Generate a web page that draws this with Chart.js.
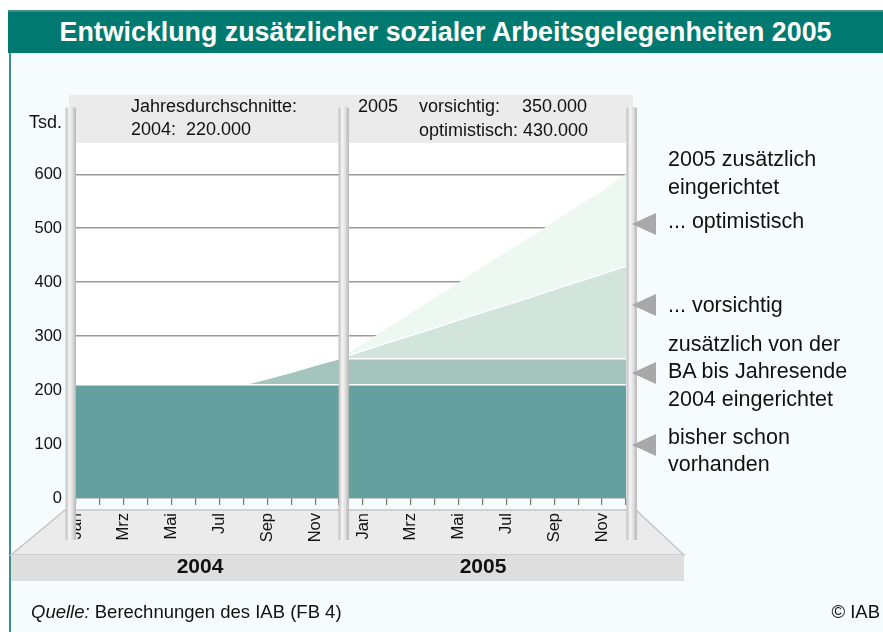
<!DOCTYPE html>
<html lang="de">
<head>
<meta charset="utf-8">
<title>Entwicklung zusätzlicher sozialer Arbeitsgelegenheiten 2005</title>
<script src="https://cdn.jsdelivr.net/npm/chart.js@4.4.1/dist/chart.umd.min.js"></script>
<style>
  html, body { margin: 0; padding: 0; }
  body {
    width: 883px; height: 632px; position: relative; overflow: hidden;
    background: #ffffff; color: #111;
    font-family: "Liberation Sans", Arial, sans-serif;
  }
  #panel {
    position: absolute; left: 9px; top: 53px; width: 874px; height: 579px;
    background: #f6fcfc; border-left: 2px solid #3b918d; box-sizing: border-box;
  }
  #title {
    position: absolute; left: 8px; top: 10px; width: 875px; height: 43px;
    background: #007a70; border-top: 2px solid #3f8d88; box-sizing: border-box;
    color: #fff; font-weight: bold; font-size: 26.8px; line-height: 41px; text-align: center;
  }
  #chart { position: absolute; left: 0; top: 0; }
  .t { position: absolute; white-space: nowrap; }
  .h { font-size: 18px; line-height: 23.4px; }
  .f { font-size: 18.5px; line-height: 23.4px; }
  .a { font-size: 21.5px; line-height: 27.7px; left: 668px; }
  .y { font-size: 21px; line-height: 24px; font-weight: bold; width: 100px; text-align: center; }
  .arr {
    position: absolute; left: 632px; width: 0; height: 0;
    border-top: 11px solid transparent; border-bottom: 11px solid transparent;
    border-right: 24px solid #a8a8a8;
  }
</style>
</head>
<body>
<div id="panel"></div>
<div id="title">Entwicklung zusätzlicher sozialer Arbeitsgelegenheiten 2005</div>
<canvas id="chart" width="883" height="632"></canvas>

<div class="t h" style="left:131px; top:95px;">Jahresdurchschnitte:<br>2004:&nbsp; 220.000</div>
<div class="t h" style="left:358px; top:95px;">2005</div>
<div class="t h" style="left:419px; top:95px;">vorsichtig:</div>
<div class="t h" style="left:522px; top:95px;">350.000</div>
<div class="t h" style="left:419px; top:118.5px;">optimistisch: 430.000</div>
<div class="t h" style="right:821px; top:111px;">Tsd.</div>

<div class="t a" style="top:146px;">2005 zusätzlich<br>eingerichtet</div>
<div class="t a" style="top:207.5px;">... optimistisch</div>
<div class="t a" style="top:291.5px;">... vorsichtig</div>
<div class="t a" style="top:330.5px;">zusätzlich von der<br>BA bis Jahresende<br>2004 eingerichtet</div>
<div class="t a" style="top:423.5px;">bisher schon<br>vorhanden</div>
<div class="arr" style="top:213px;"></div>
<div class="arr" style="top:294px;"></div>
<div class="arr" style="top:362px;"></div>
<div class="arr" style="top:434px;"></div>

<div class="t y" style="left:150px; top:554px;">2004</div>
<div class="t y" style="left:433px; top:554px;">2005</div>

<div class="t f" style="left:31px; top:600px;"><i>Quelle:</i> Berechnungen des IAB (FB 4)</div>
<div class="t f" style="right:3px; top:600px;">© IAB</div>

<script>
// Monate, zwei Jahre hintereinander
const months = ["Jan", "Feb", "Mrz", "Apr", "Mai", "Jun", "Jul", "Aug", "Sep", "Okt", "Nov", "Dez"];
const categories = months.concat(months);
const shownMonths = ["Jan", "Mrz", "Mai", "Jul", "Sep", "Nov"];
const yTicks = [0, 100, 200, 300, 400, 500, 600];

// Werte in Tsd. (Oberkante jeder Schicht)
const bisherVorhanden = [210, 210, 210, 210, 210, 210, 210, 210, 210, 210, 210, 210,
                         210, 210, 210, 210, 210, 210, 210, 210, 210, 210, 210, 210];
const baBisJahresende = [210, 210, 210, 210, 210, 210, 210, 210, 221, 233, 246, 258,
                         258, 258, 258, 258, 258, 258, 258, 258, 258, 258, 258, 258];
const vorsichtig = [null, null, null, null, null, null, null, null, null, null, null, 258,
                    273, 287, 301, 315, 330, 344, 358, 372, 387, 401, 415, 430];
const optimistisch = [null, null, null, null, null, null, null, null, null, null, null, 258,
                      286, 314, 343, 371, 399, 428, 456, 484, 512, 541, 569, 600];

// Hintergrund: Kopfband, weisse Zeichenflaeche, Sockel
const backdrop = {
  id: "backdrop",
  beforeDraw(chart) {
    const ctx = chart.ctx, a = chart.chartArea;
    ctx.save();
    ctx.fillStyle = "#ebebeb";
    ctx.fillRect(a.left - 7, a.top - 48, a.right - a.left + 14, 48);
    ctx.fillStyle = "#ffffff";
    ctx.fillRect(a.left, a.top, a.right - a.left, a.bottom - a.top);

    // Sockel (Trapez + Band)
    const top = a.bottom + 12, mid = a.bottom + 57, bot = a.bottom + 83;
    ctx.beginPath();
    ctx.moveTo(a.left - 11, top);
    ctx.lineTo(a.right + 10, top);
    ctx.lineTo(a.right + 58, mid);
    ctx.lineTo(11, mid);
    ctx.closePath();
    ctx.fillStyle = "#ebebeb";
    ctx.fill();
    ctx.strokeStyle = "#c6c6c6";
    ctx.lineWidth = 1.5;
    ctx.stroke();
    ctx.fillStyle = "#dedede";
    ctx.fillRect(11, mid, a.right + 47, bot - mid);
    ctx.restore();
  },
  afterDraw(chart) {
    const ctx = chart.ctx, a = chart.chartArea, x = chart.scales.x;
    const posts = [a.left - 5.2, x.getPixelForValue(11) + 4.7, a.right + 5.7];
    const top = a.top - 37, bottom = a.bottom + 42, w = 10.4;
    ctx.save();
    posts.forEach(cx => {
      const g = ctx.createLinearGradient(cx - w / 2, 0, cx + w / 2, 0);
      g.addColorStop(0, "#bcbcbc");
      g.addColorStop(0.35, "#f6f6f6");
      g.addColorStop(0.65, "#e0e0e0");
      g.addColorStop(1, "#b4b4b4");
      ctx.fillStyle = g;
      ctx.beginPath();
      ctx.moveTo(cx - w / 2, bottom);
      ctx.lineTo(cx - w / 2, top + 2);
      ctx.quadraticCurveTo(cx, top - 1, cx + w / 2, top + 2);
      ctx.lineTo(cx + w / 2, bottom);
      ctx.closePath();
      ctx.fill();
    });
    ctx.restore();
  }
};

const ctx = document.getElementById("chart").getContext("2d");
new Chart(ctx, {
  type: "line",
  data: {
    labels: categories,
    datasets: [
      { label: "bisher schon vorhanden", data: bisherVorhanden, fill: "origin",
        backgroundColor: "#64a19e", borderColor: "#ffffff", borderWidth: 1.5 },
      { label: "zusätzlich von der BA bis Jahresende 2004 eingerichtet", data: baBisJahresende, fill: "-1",
        backgroundColor: "#a4c5bd", borderColor: "#ffffff", borderWidth: 1.5 },
      { label: "... vorsichtig", data: vorsichtig, fill: "-1",
        backgroundColor: "#d1e5dc", borderColor: "#ffffff", borderWidth: 1.5 },
      { label: "... optimistisch", data: optimistisch, fill: "-1",
        backgroundColor: "#ecf8f1", borderColor: "#ecf8f1", borderWidth: 0 }
    ]
  },
  options: {
    responsive: false,
    animation: false,
    devicePixelRatio: 1,
    elements: { point: { radius: 0 }, line: { tension: 0 } },
    layout: { padding: { left: 0, top: 143, right: 257, bottom: 0 } },
    plugins: { legend: { display: false }, tooltip: { enabled: false } },
    scales: {
      x: {
        offset: false,
        border: { display: false },
        grid: { drawOnChartArea: false, drawTicks: true, tickLength: 7, color: "#777777", lineWidth: 1.2 },
        ticks: {
          autoSkip: false, minRotation: 90, maxRotation: 90, padding: 8,
          color: "#111111", font: { size: 16.5, family: "'Liberation Sans', Arial, sans-serif" },
          callback: function (v, i) {
            const m = categories[i];
            return shownMonths.includes(m) ? m : "";
          }
        },
        afterFit(scale) { scale.height = 134; }
      },
      y: {
        min: 0,
        max: 658,
        border: { display: false },
        grid: { drawTicks: false, color: "#9a9a9a", lineWidth: 1.5 },
        ticks: { padding: 14, color: "#111111", font: { size: 16.5, family: "'Liberation Sans', Arial, sans-serif" } },
        afterBuildTicks(scale) { scale.ticks = yTicks.map(v => ({ value: v })); },
        afterFit(scale) { scale.width = 76; }
      }
    }
  },
  plugins: [backdrop]
});
</script>
</body>
</html>
